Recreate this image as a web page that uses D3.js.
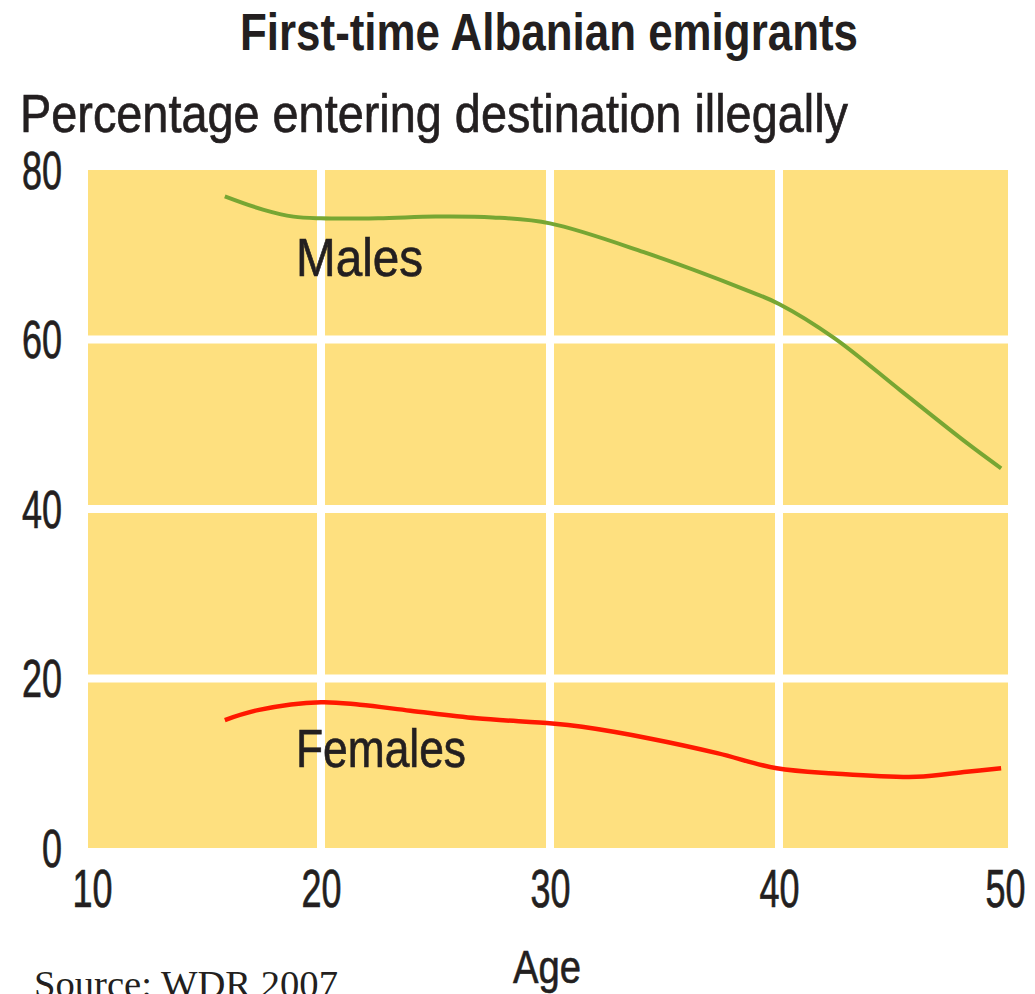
<!DOCTYPE html>
<html>
<head>
<meta charset="utf-8">
<script src="https://cdn.jsdelivr.net/npm/d3@7"></script>
<style>
  html, body { margin: 0; padding: 0; background: #fff; }
  svg { display: block; }
  text { fill: #231f20; font-family: "Liberation Sans", Arial, sans-serif; }
</style>
</head>
<body>
<svg id="chart" width="1035" height="994"></svg>
<script>
// ---- data ----
const title = "First-time Albanian emigrants";
const subtitle = "Percentage entering destination illegally";
const xLabel = "Age";
const source = "Source: WDR 2007";
const xTicks = [10, 20, 30, 40, 50];
const yTicks = [0, 20, 40, 60, 80];
const maleAges   = [15.8, 17.5, 18.8, 20, 22.5, 25, 27.5, 30, 34.1, 38.6, 40, 42.4, 45.3, 48.2, 49.7];
const maleValues = [76.9, 75.3, 74.5, 74.3, 74.3, 74.5, 74.4, 73.7, 70.3, 65.8, 64.2, 60.2, 54.0, 47.8, 44.8];
const femaleAges   = [15.8, 17.3, 20, 21.7, 23.9, 26.8, 30.1, 31.4, 34.4, 37.3, 39.9, 42.4, 46, 48.2, 49.7];
const femaleValues = [15.1, 16.3, 17.2, 16.9, 16.2, 15.3, 14.7, 14.3, 12.9, 11.2, 9.4, 8.8, 8.4, 9.0, 9.4];
const seriesLabels = ["Males", "Females"];

// ---- layout ----
const svg = d3.select("#chart");
const x = d3.scaleLinear().domain([10, 50]).range([92, 1008]);
const y = d3.scaleLinear().domain([0, 80]).range([848, 170]);

// background
svg.append("rect")
  .attr("x", 88).attr("y", y(80))
  .attr("width", x(50) - 88).attr("height", y(0) - y(80))
  .attr("fill", "#fee07f");

// grid
const grid = svg.append("g").attr("stroke", "#fff").attr("stroke-width", 8);
grid.selectAll("line.v").data(xTicks.filter(t => t > 10 && t < 50)).join("line")
  .attr("class", "v")
  .attr("x1", d => x(d)).attr("x2", d => x(d))
  .attr("y1", y(80)).attr("y2", y(0));
grid.selectAll("line.h").data(yTicks.filter(t => t > 0 && t < 80)).join("line")
  .attr("class", "h")
  .attr("x1", 88).attr("x2", x(50))
  .attr("y1", d => y(d)).attr("y2", d => y(d));

// lines
const line = d3.line().x(d => x(d[0])).y(d => y(d[1])).curve(d3.curveCatmullRom.alpha(0.5));
svg.append("path")
  .datum(maleAges.map((a, i) => [a, maleValues[i]]))
  .attr("d", line).attr("fill", "none")
  .attr("stroke", "#77a633").attr("stroke-width", 4);
svg.append("path")
  .datum(femaleAges.map((a, i) => [a, femaleValues[i]]))
  .attr("d", line).attr("fill", "none")
  .attr("stroke", "#ff1800").attr("stroke-width", 4.5);

// axes
const yAxis = svg.append("g").attr("transform", "translate(62,0)")
  .call(d3.axisLeft(y).tickValues(yTicks).tickSize(0).tickPadding(0));
yAxis.select(".domain").remove();
yAxis.selectAll("text")
  .attr("x", 0).attr("dy", "0.34em")
  .attr("font-size", 54)
  .attr("fill", "#231f20")
  .attr("stroke", "#231f20").attr("stroke-width", 0.7)
  .attr("font-family", "Liberation Sans, Arial, sans-serif")
  .attr("textLength", d => String(d).length * 20)
  .attr("lengthAdjust", "spacingAndGlyphs");

const xAxis = svg.append("g").attr("transform", `translate(0,${y(0)})`)
  .call(d3.axisBottom(x).tickValues(xTicks).tickSize(0).tickPadding(0));
xAxis.select(".domain").remove();
xAxis.selectAll("text")
  .attr("y", 59).attr("dy", 0)
  .attr("dx", d => d === 50 ? -3 : 0)
  .attr("font-size", 54)
  .attr("fill", "#231f20")
  .attr("stroke", "#231f20").attr("stroke-width", 0.7)
  .attr("font-family", "Liberation Sans, Arial, sans-serif")
  .attr("textLength", d => String(d).length * 20)
  .attr("lengthAdjust", "spacingAndGlyphs");

// texts
function label(str, px, py, size, len, opts = {}) {
  const t = svg.append("text")
    .attr("x", px).attr("y", py)
    .attr("font-size", size)
    .attr("textLength", len)
    .attr("lengthAdjust", "spacingAndGlyphs")
    .text(str);
  if (opts.weight) t.attr("font-weight", opts.weight);
  if (opts.anchor) t.attr("text-anchor", opts.anchor);
  if (opts.family) t.style("font-family", opts.family);
  if (opts.stroke) t.attr("stroke", "#231f20").attr("stroke-width", opts.stroke);
  return t;
}
label(title, 240, 50, 51, 618, { weight: "bold" });
label(subtitle, 20, 132, 54, 828, { stroke: 0.7 });
label(seriesLabels[0], 296, 276, 54, 127, { stroke: 0.7 });
label(seriesLabels[1], 296, 767, 54, 170, { stroke: 0.7 });
label(xLabel, 547, 983, 46, 68, { anchor: "middle", stroke: 0.6 });
label(source, 34, 997, 38, 304, { family: "'Liberation Serif', 'Times New Roman', serif" });
</script>
</body>
</html>
